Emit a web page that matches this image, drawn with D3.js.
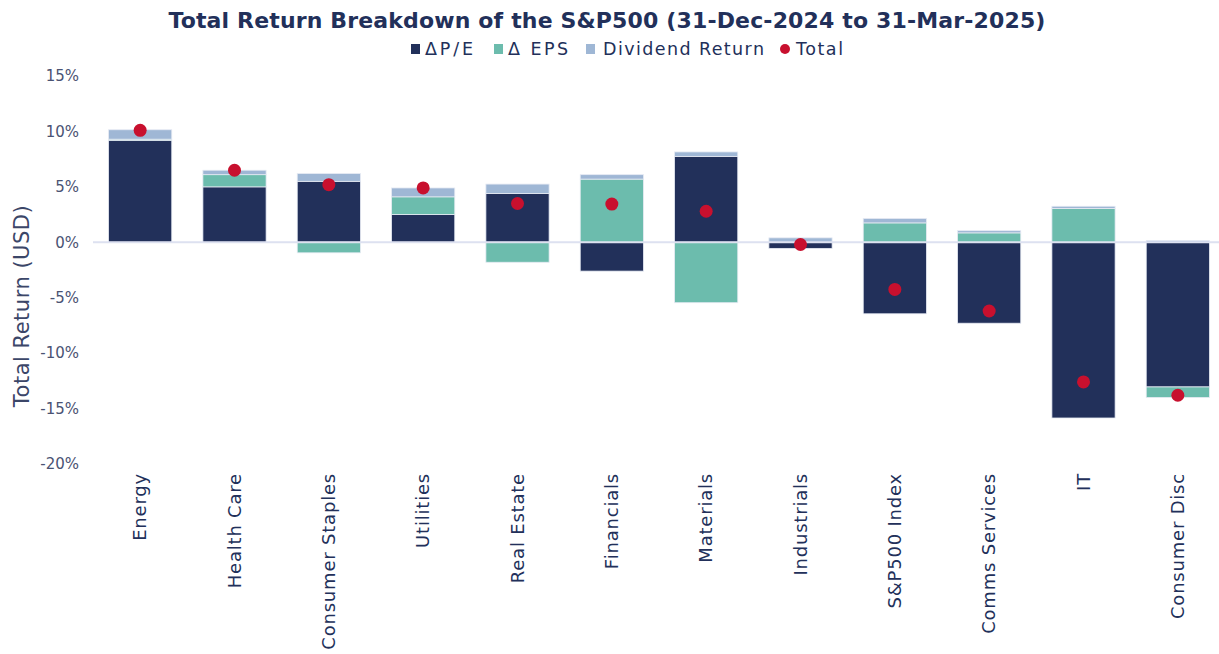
<!DOCTYPE html>
<html>
<head>
<meta charset="utf-8">
<script src="https://cdn.jsdelivr.net/npm/d3@7"></script>
<style>
  body { margin: 0; background: #fff; }
  svg { display: block; font-family: "DejaVu Sans", sans-serif; }
</style>
</head>
<body>
<svg id="chart" width="1219" height="654"></svg>
<script>
// sectors, in the order shown
var categories = ["Energy", "Health Care", "Consumer Staples", "Utilities", "Real Estate", "Financials",
  "Materials", "Industrials", "S&P500 Index", "Comms Services", "IT", "Consumer Disc"];
// components of total return, in %
var peChange = [9.2, 5.0, 5.5, 2.5, 4.4, -2.6, 7.75, -0.55, -6.45, -7.3, -15.85, -13.05];
var epsChange = [0.1, 1.1, -0.95, 1.6, -1.8, 5.7, -5.45, 0.0, 1.75, 0.85, 3.05, -0.95];
var dividendReturn = [0.85, 0.4, 0.7, 0.8, 0.85, 0.4, 0.4, 0.4, 0.4, 0.2, 0.2, 0.15];
var totalReturn = [10.1, 6.5, 5.2, 4.9, 3.5, 3.45, 2.8, -0.2, -4.25, -6.2, -12.6, -13.8];
var yTicks = [15, 10, 5, 0, -5, -10, -15, -20];

var seriesKeys = ["pe", "eps", "div"];
var seriesNames = { pe: "\u0394P/E", eps: "\u0394 EPS", div: "Dividend Return", total: "Total" };
var colors = { pe: "#22305a", eps: "#6cbcad", div: "#9fb7d5", total: "#c8102e" };
var navy = "#22305a";

var rows = categories.map(function (c, i) {
  return { cat: c, pe: peChange[i], eps: epsChange[i], div: dividendReturn[i], total: totalReturn[i] };
});

var svg = d3.select("#chart");
var x = d3.scaleBand().domain(categories).range([93, 1225]).paddingInner(0.33).paddingOuter(0.165);
var y = d3.scaleLinear().domain([-20, 15]).range([464, 76]);

// title + legend
svg.append("text").attr("x", 607).attr("y", 28).attr("text-anchor", "middle")
  .attr("font-size", 22).attr("font-weight", "bold").attr("fill", navy).attr("letter-spacing", 0.15)
  .text("Total Return Breakdown of the S&P500 (31-Dec-2024 to 31-Mar-2025)");

var legendItems = [
  { key: "pe", x: 411, tx: 425, w: 48 },
  { key: "eps", x: 494, tx: 508, w: 60 },
  { key: "div", x: 586, tx: 603, w: 161 },
  { key: "total", x: 785, tx: 796, w: 47 }
];
var lg = svg.append("g");
legendItems.forEach(function (d) {
  if (d.key == "total") {
    lg.append("circle").attr("cx", d.x).attr("cy", 49).attr("r", 5).attr("fill", colors.total);
  } else {
    lg.append("rect").attr("x", d.x).attr("y", 44).attr("width", 9).attr("height", 10).attr("fill", colors[d.key]);
  }
  lg.append("text").attr("x", d.tx).attr("y", 55).attr("font-size", 17.5).attr("fill", navy)
    .attr("textLength", d.w).attr("lengthAdjust", "spacing")
    .text(seriesNames[d.key]);
});

// y axis (labels only)
var yAxis = svg.append("g").attr("transform", "translate(79,0)")
  .call(d3.axisLeft(y).tickValues(yTicks).tickSize(0).tickPadding(0).tickFormat(function (d) { return d + "%"; }));
yAxis.select(".domain").remove();
yAxis.selectAll("text").attr("font-size", 15).attr("fill", "#4a5373").attr("font-family", "DejaVu Sans, sans-serif");

svg.append("text").attr("transform", "translate(29,306) rotate(-90)").attr("text-anchor", "middle")
  .attr("font-size", 21).attr("fill", "#3b4668").attr("letter-spacing", 0.5).text("Total Return (USD)");

// stacked bars, positive and negative parts stacked separately
var stacked = d3.stack().keys(seriesKeys).offset(d3.stackOffsetDiverging)(rows);
svg.append("g").selectAll("g").data(stacked).enter().append("g")
  .attr("fill", function (s) { return colors[s.key]; })
  .selectAll("rect").data(function (s) { return s; }).enter().append("rect")
  .attr("x", function (d) { return x(d.data.cat); })
  .attr("width", x.bandwidth())
  .attr("y", function (d) { return y(Math.max(d[0], d[1])); })
  .attr("height", function (d) { return Math.abs(y(d[0]) - y(d[1])); })
  .attr("stroke", "#e6eaf3").attr("stroke-width", 0.8);

// zero line
svg.append("line").attr("x1", 93).attr("x2", 1219).attr("y1", y(0)).attr("y2", y(0))
  .attr("stroke", "#dde1f0").attr("stroke-width", 2);

// totals
svg.append("g").selectAll("circle").data(rows).enter().append("circle")
  .attr("cx", function (d) { return x(d.cat) + x.bandwidth() / 2; })
  .attr("cy", function (d) { return y(d.total); })
  .attr("r", 6.5).attr("fill", colors.total);

// category labels
var xAxis = svg.append("g").attr("transform", "translate(0,473)")
  .call(d3.axisBottom(x).tickSize(0).tickPadding(0));
xAxis.select(".domain").remove();
xAxis.selectAll("text").attr("font-size", 18).attr("fill", navy).attr("font-family", "DejaVu Sans, sans-serif")
  .attr("letter-spacing", 0.8)
  .attr("text-anchor", "end").attr("dy", "0.35em").attr("y", 0).attr("x", 0)
  .attr("transform", "rotate(-90)");
</script>
</body>
</html>
